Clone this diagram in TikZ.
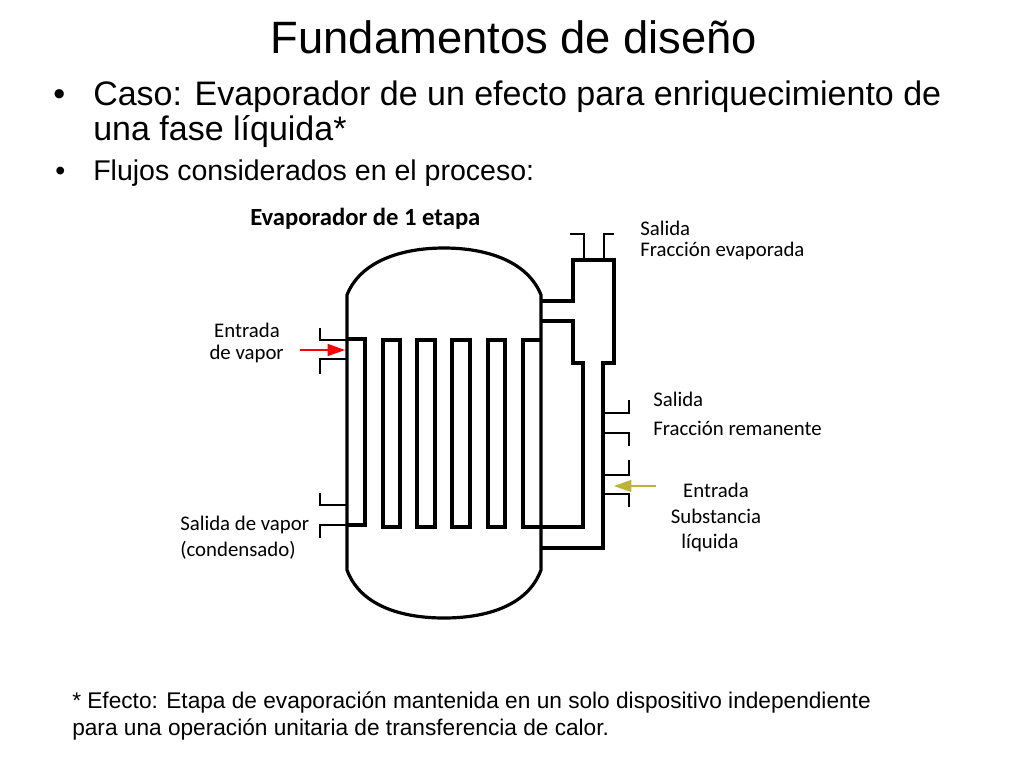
\documentclass[tikz,border=0pt]{standalone}
\usepackage{fontspec}
\setmainfont{Liberation Sans}
\newfontfamily\calfnt{Carlito}
\usetikzlibrary{arrows.meta}
\begin{document}
\begin{tikzpicture}[x=0.75pt,y=-0.75pt,
  eq/.style={line width=2.4pt,line join=miter},
  stub/.style={line width=0.9pt},
  lbl/.style={font=\calfnt\fontsize{15.6}{18}\selectfont,inner sep=0pt},
  txt/.style={inner sep=0pt,anchor=base west}]
\useasboundingbox (0,0) rectangle (1024,768);
\node[inner sep=0pt,anchor=base,font=\fontsize{34}{40}\selectfont] (title) at (514,53) {Fundamentos de diseño};
\node[txt,font=\fontsize{25.5}{30}\selectfont] (b1) at (53,105) {•};
\node[txt,font=\fontsize{25.5}{30}\selectfont] (t1) at (93,105) {Caso: Evaporador de un efecto para enriquecimiento de};
\node[txt,font=\fontsize{25.5}{30}\selectfont] (t1b) at (93,140) {una fase líquida*};
\node[txt,font=\fontsize{21.4}{25}\selectfont] (b2) at (55,180) {•};
\node[txt,font=\fontsize{21.4}{25}\selectfont] (t2) at (93,180) {Flujos considerados en el proceso:};
\node[txt,font=\fontsize{17}{20}\selectfont] (f1) at (72,708) {* Efecto: Etapa de evaporación mantenida en un solo dispositivo independiente};
\node[txt,font=\fontsize{17}{20}\selectfont] (f2) at (72,735) {para una operación unitaria de transferencia de calor.};
% vessel
\draw[eq] (347,295) -- (347,570) .. controls (360,605) and (400,618) .. (444,618) .. controls (488,618) and (528,605) .. (541,570) -- (541,295) .. controls (528,262) and (488,248) .. (444,248) .. controls (400,248) and (360,262) .. (347,295) -- cycle;
% left tube
\draw[eq] (347,339) -- (365,339) -- (365,525) -- (347,525);
% tubes
\foreach \a/\b in {383/400,417/435,452/470,488/505}
  \draw[eq] (\a,340) rectangle (\b,527);
\draw[eq] (541,340) -- (523,340) -- (523,527) -- (541,527);
% right separator
\draw[eq] (541,301) -- (573,301) -- (573,260) -- (614,260) -- (614,363) -- (603,363) -- (603,548) -- (541,548);
\draw[eq] (541,321) -- (573,321) -- (573,363) -- (583,363) -- (583,527) -- (541,527);
% stubs
\draw[stub] (570,234) -- (584,234) -- (584,260);
\draw[stub] (604,260) -- (604,234) -- (614,234);
\draw[stub] (320,328) -- (320,340) -- (347,340);
\draw[stub] (320,374) -- (320,359) -- (347,359);
\draw[stub] (320,493) -- (320,505) -- (347,505);
\draw[stub] (320,538) -- (320,525) -- (347,525);
\draw[stub] (603,413) -- (629,413) -- (629,400);
\draw[stub] (603,433) -- (629,433) -- (629,446);
\draw[stub] (603,475) -- (629,475) -- (629,460);
\draw[stub] (603,494) -- (629,494) -- (629,507);
% arrows
\coordinate (ra) at (300,350); \coordinate (rb) at (345,350);
\draw[red,line width=0.9pt,-{Triangle[length=13pt,width=9pt]}] (ra) -- (rb);
\coordinate (ya) at (656,486); \coordinate (yb) at (614,486);
\draw[yellow!70!black,line width=0.9pt,-{Triangle[length=13pt,width=9pt]}] (ya) -- (yb);
% labels
\node[lbl,anchor=west,font=\calfnt\bfseries\fontsize{18.5}{22}\selectfont] (ev) at (250,219) {Evaporador de 1 etapa};
\node[lbl,anchor=west] (s1) at (640,228) {Salida};
\node[lbl,anchor=west] (s1b) at (640,251) {Fracción evaporada};
\node[lbl,anchor=east] (e1) at (280,330) {Entrada};
\node[lbl,anchor=east] (e1b) at (284,354) {de vapor};
\node[lbl,anchor=west] (s2) at (653,399) {Salida};
\node[lbl,anchor=west] (s2b) at (653,428) {Fracción remanente};
\node[lbl] (e2) at (716,490) {Entrada};
\node[lbl] (e2b) at (716,516) {Substancia};
\node[lbl] (e2c) at (710,543) {líquida};
\node[lbl,anchor=west] (s3) at (180,525) {Salida de vapor};
\node[lbl,anchor=west] (s3b) at (180,550) {(condensado)};
\end{tikzpicture}
\end{document}
